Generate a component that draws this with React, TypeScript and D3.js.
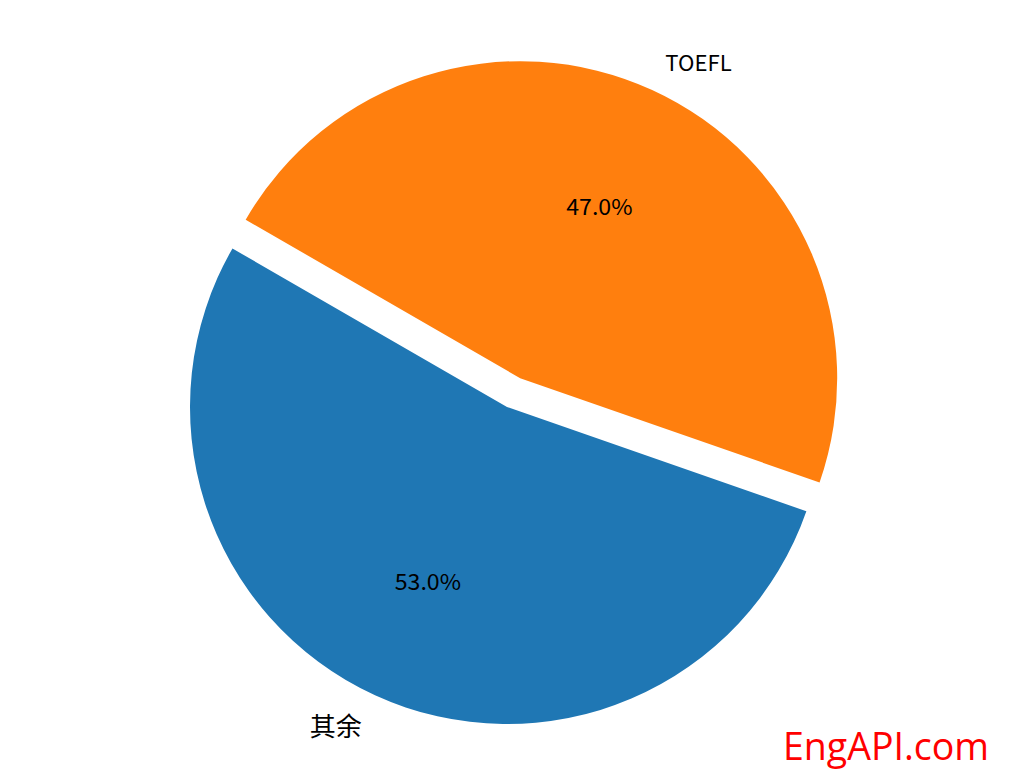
import React from "react";
import * as d3 from "d3";

const labels = ["其余", "TOEFL"];
const values = [53, 47];
const explode = [0, 0.1];
const colors = ["#1f77b4", "#ff7f0e"];
const startAngleDeg = 150;

const isCJK = (t: string) => /[\u4e00-\u9fff]/.test(t);

export default function App() {
  const W = 1031, H = 779;
  const cx = 507, cy = 407, R = 317;
  const s = Math.PI / 2 - (startAngleDeg * Math.PI) / 180;
  const pie = d3.pie<number>().sort(null).startAngle(s).endAngle(s - 2 * Math.PI);
  const arcs = pie(values);
  const arcGen = d3.arc<any>().innerRadius(0).outerRadius(R);
  const font = "'Noto Sans CJK SC', 'DejaVu Sans', sans-serif";
  // SimHei-like: Latin glyphs are half-width (0.5em each)
  const em = 26;
  const textProps = (t: string) =>
    isCJK(t)
      ? { fontSize: em }
      : { fontSize: 22, textLength: t.length * em * 0.51, lengthAdjust: "spacingAndGlyphs" as const };
  return (
    <svg width={W} height={H} style={{ position: "absolute", left: 0, top: 0 }}>
      <rect width={W} height={H} fill="#fff" />
      {arcs.map((a, i) => {
        const mid = (a.startAngle + a.endAngle) / 2;
        const ox = Math.sin(mid) * explode[i] * R;
        const oy = -Math.cos(mid) * explode[i] * R;
        const lx = Math.sin(mid) * 1.1 * R;
        const ly = -Math.cos(mid) * 1.1 * R;
        const px = Math.sin(mid) * 0.6 * R;
        const py = -Math.cos(mid) * 0.6 * R;
        const pct = `${values[i].toFixed(1)}%`;
        return (
          <g key={labels[i]} transform={`translate(${cx + ox},${cy + oy})`}>
            <path d={arcGen({ startAngle: a.startAngle, endAngle: a.endAngle }) as string} fill={colors[i]} />
            <text x={lx} y={ly} textAnchor={lx > 0 ? "start" : "end"} dominantBaseline="central"
              fontFamily={font} fill="#000" {...textProps(labels[i])}>{labels[i]}</text>
            <text x={px} y={py} textAnchor="middle" dominantBaseline="central"
              fontFamily={font} fill="#000" {...textProps(pct)}>{pct}</text>
          </g>
        );
      })}
      <text x={886} y={745} textAnchor="middle" dominantBaseline="central"
        fontFamily="'Open Sans', sans-serif" fontSize={37.5} fill="#ff0000">EngAPI.com</text>
    </svg>
  );
}
